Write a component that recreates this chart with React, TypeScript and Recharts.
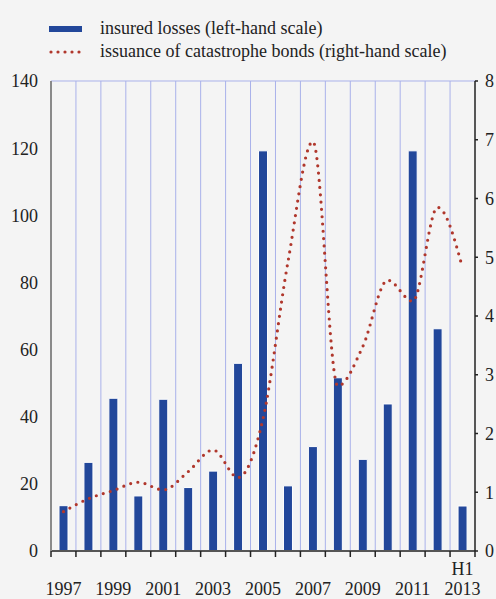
import { ComposedChart, Bar, Line, XAxis, YAxis, CartesianGrid } from 'recharts'

const years = ['1997', '1998', '1999', '2000', '2001', '2002', '2003', '2004', '2005', '2006', '2007', '2008', '2009', '2010', '2011', '2012', '2013']
// USD bn, left-hand scale
const insuredLosses = [13.5, 26.4, 45.5, 16.4, 45.2, 18.9, 23.8, 55.9, 119.2, 19.4, 31.1, 51.6, 27.3, 43.8, 119.2, 66.2, 13.4]
// USD bn, right-hand scale
const catBonds = [0.67, 0.89, 1.03, 1.17, 1.04, 1.35, 1.72, 1.25, 2.25, 4.92, 6.97, 2.81, 3.48, 4.61, 4.25, 5.85, 4.82]
const leftTicks = [0, 20, 40, 60, 80, 100, 120, 140]
const rightTicks = [0, 1, 2, 3, 4, 5, 6, 7, 8]
const labelledYears = ['1997', '1999', '2001', '2003', '2005', '2007', '2009', '2011', '2013']

const data = years.map((year, i) => ({
	year,
	losses: insuredLosses[i],
	bonds: catBonds[i],
}))

const font = '"Liberation Serif", "Times New Roman", serif'
const blue = '#22479a'
const red = '#b0372c'
const gridColor = '#a9b1ea'

function YearTick(props: any) {
	const { x, y, payload, index } = props
	const half = payload.offset || 0
	const isLast = index === years.length - 1
	const showLabel = labelledYears.includes(payload.value)
	return (
		<g>
			{/* tick marks sit on the category edges */}
			<line x1={x - half} x2={x - half} y1={y - 2} y2={y + 4} stroke="#222" strokeWidth={1.5} />
			{isLast && <line x1={x + half} x2={x + half} y1={y - 2} y2={y + 4} stroke="#222" strokeWidth={1.5} />}
			{isLast && (
				<text x={x} y={y + 22} textAnchor="middle" fontSize={18} fill="#222" fontFamily={font}>
					H1
				</text>
			)}
			{showLabel && (
				<text x={x} y={y + 42} textAnchor="middle" fontSize={18} fill="#222" fontFamily={font}>
					{payload.value}
				</text>
			)}
		</g>
	)
}

export default function App() {
	return (
		<div
			style={{
				position: 'absolute',
				left: 0,
				top: 0,
				width: 496,
				height: 599,
				background: '#f4f4f4',
				fontFamily: font,
			}}
		>
			<div style={{ position: 'absolute', left: 49, top: 17, fontSize: 18, color: '#222', lineHeight: '23px' }}>
				<div style={{ display: 'flex', alignItems: 'center' }}>
					<span style={{ display: 'inline-block', width: 33, height: 6, background: blue, marginRight: 18 }} />
					insured losses (left-hand scale)
				</div>
				<div style={{ display: 'flex', alignItems: 'center' }}>
					<svg width={33} height={6} style={{ marginRight: 18 }}>
						<line x1={2} y1={3} x2={33} y2={3} stroke={red} strokeWidth={3.2} strokeLinecap="round" strokeDasharray="0 7" />
					</svg>
					issuance of catastrophe bonds (right-hand scale)
				</div>
			</div>
			<ComposedChart
				width={496}
				height={599}
				data={data}
				margin={{ top: 81, right: 0, bottom: 0, left: 0 }}
				barCategoryGap={0}
				style={{ position: 'absolute', left: 0, top: 0 }}
			>
				<CartesianGrid
					stroke={gridColor}
					strokeWidth={1}
					verticalCoordinatesGenerator={({ offset }: any) =>
						years.slice(1).map((_, i) => offset.left + ((i + 1) * offset.width) / years.length)
					}
				/>
				<XAxis
					dataKey="year"
					interval={0}
					height={48}
					tickLine={false}
					tickSize={0}
					tick={<YearTick />}
					axisLine={{ stroke: '#555', strokeWidth: 2 }}
				/>
				<YAxis
					yAxisId="left"
					domain={[0, 140]}
					ticks={leftTicks}
					width={51}
					tickLine={false}
					tickMargin={7}
					axisLine={{ stroke: '#8a8a8a', strokeWidth: 2 }}
					tick={{ fontSize: 18, fill: '#222', fontFamily: font }}
				/>
				<YAxis
					yAxisId="right"
					orientation="right"
					domain={[0, 8]}
					ticks={rightTicks}
					width={21}
					tickSize={3}
					tickMargin={7}
					axisLine={{ stroke: '#222', strokeWidth: 1.5 }}
					tickLine={{ stroke: '#222', strokeWidth: 1.5 }}
					tick={{ fontSize: 18, fill: '#222', fontFamily: font }}
				/>
				<Bar
					yAxisId="left"
					dataKey="losses"
					fill={blue}
					stroke="#fff"
					strokeWidth={1}
					barSize={9}
					isAnimationActive={false}
				/>
				<Line
					yAxisId="right"
					dataKey="bonds"
					type="monotone"
					stroke={red}
					strokeWidth={3.2}
					strokeLinecap="round"
					strokeDasharray="0 7.3"
					dot={false}
					activeDot={false}
					isAnimationActive={false}
				/>
			</ComposedChart>
		</div>
	)
}
